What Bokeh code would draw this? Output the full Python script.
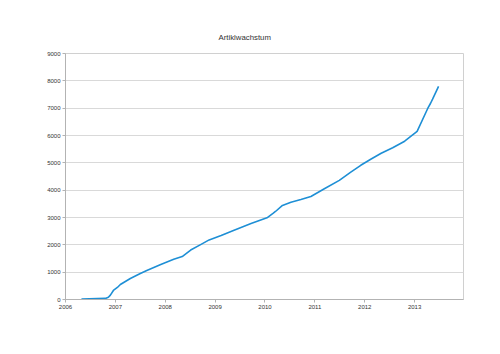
from bokeh.plotting import figure
from bokeh.models import FixedTicker, Range1d
from bokeh.embed import file_html
from bokeh.resources import INLINE

title_text = "Artiklwachstum"
years = [2006, 2007, 2008, 2009, 2010, 2011, 2012, 2013]
y_ticks = [0, 1000, 2000, 3000, 4000, 5000, 6000, 7000, 8000, 9000]

dates = [2006.32, 2006.80, 2006.86, 2006.90, 2006.96, 2007.04, 2007.10, 2007.30, 2007.50,
         2007.63, 2007.91, 2008.17, 2008.34, 2008.51, 2008.70, 2008.88, 2009.12,
         2009.38, 2009.72, 2010.04, 2010.16, 2010.21, 2010.35, 2010.52, 2010.72,
         2010.92, 2011.19, 2011.49, 2011.72, 2011.92, 2012.12, 2012.33, 2012.56,
         2012.80, 2013.05, 2013.26, 2013.32, 2013.36, 2013.48]
articles = [20, 40, 80, 160, 330, 440, 550, 770, 950,
            1060, 1280, 1470, 1570, 1810, 2000, 2180, 2340,
            2530, 2780, 2990, 3150, 3220, 3440, 3560, 3660,
            3770, 4050, 4360, 4660, 4910, 5130, 5350, 5550,
            5790, 6150, 6980, 7180, 7330, 7800]

p = figure(width=500, height=354, output_backend="svg", toolbar_location=None,
           x_range=Range1d(2006, 2013.98), y_range=Range1d(0, 9000),
           min_border_left=65, min_border_right=37, min_border_top=53,
           min_border_bottom=55)
p.background_fill_color = "white"
p.border_fill_color = "white"
p.outline_line_color = "#d0d0d0"

p.title.text = title_text
p.title.align = "left"
p.title.offset = 153
p.title.text_font = "Liberation Sans"
p.title.text_font_size = "7.8px"
p.title.text_font_style = "normal"
p.title.text_color = "#333333"
p.title.standoff = 23

p.line(dates, articles, line_color="#1e8fd5", line_width=1.6)

p.xaxis.ticker = FixedTicker(ticks=years)
p.yaxis.ticker = FixedTicker(ticks=y_ticks)
for ax in (p.xaxis[0], p.yaxis[0]):
    ax.axis_line_color = "#b3b3b3"
    ax.major_tick_line_color = "#b3b3b3"
    ax.major_tick_out = 3
    ax.major_tick_in = 0
    ax.minor_tick_line_color = None
    ax.major_label_text_font = "Liberation Sans"
    ax.major_label_text_font_size = "6px"
    ax.major_label_text_color = "#333333"
    ax.major_label_standoff = 2

p.xgrid.grid_line_color = None
p.ygrid.grid_line_color = "#d9d9d9"
p.ygrid.grid_line_width = 1

open("out.html", "w").write(file_html(p, INLINE))
